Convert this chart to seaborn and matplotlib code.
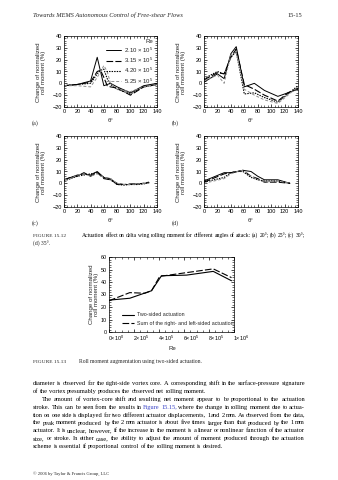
import matplotlib
matplotlib.use("Agg")
import matplotlib.pyplot as plt
import matplotlib.transforms as mtrans
from matplotlib.ticker import MultipleLocator, FixedLocator
import seaborn as sns

# ---------------- data ----------------
re_labels = ["2.10 × 10$^{5}$", "3.15 × 10$^{5}$", "4.20 × 10$^{5}$", "5.25 × 10$^{5}$"]

theta_a = [0, 20, 40, 50, 55, 60, 65, 70, 80, 100, 120, 140]
a_s1 = [-2, -1, 2, 22, 10, -2, -1, 0, -3, -8, -2, 0]
a_s2 = [-2, -1, 1, 10, 11, 5, -2, -3, -4, -10, -3, -1]
a_s3 = [-2, -1, 0, 8, 11, 12, 4, -1, -5, -9, -3, -1]
a_s4 = [-2, -2, -3, 5, 10, 15, 10, 0, -5, -7, -3, -1]

theta_b = [0, 20, 30, 40, 48, 60, 75, 90, 110, 125, 140]
b_s1 = [1, 8, 4, 25, 31, -3, 0, -6, -11, -8, -5]
b_s2 = [3, 9, 8, 22, 29, -1, -5, -10, -15, -8, -4]
b_s3 = [4, 10, 8, 22, 27, -9, -8, -12, -16, -9, -2]
b_s4 = [2, 7, 0, 24, 26, -5, -10, -14, -17, -10, -3]

theta_c = [0, 10, 20, 30, 40, 50, 60, 70, 80, 90, 100, 110, 120, 128]
c_s1 = [3, 5, 7, 8, 7, 10, 5, 4, -1, -1, -1, -0.5, 0, 0.5]
c_s2 = [3, 5, 6, 9, 6, 9, 4, 3, 0, -1, -0.5, -0.5, 0, 1]
c_s3 = [2, 4, 6, 7, 8, 9, 5, 3, -1, -1.5, -1, -1, -0.5, 0.5]
c_s4 = [3, 4, 7, 8, 6, 8, 5, 4, 0, -1, -1, -0.5, 0, 0]

theta_d = [0, 30, 40, 50, 58, 70, 80, 90, 110, 128]
d_s1 = [2, 9, 9, 10, 11, 10, 6, 3, 3, 0]
d_s2 = [1, 8, 9, 10, 11, 6, 4, 1, 1, 0]
d_s3 = [1, 5, 9, 10, 10, 5, 3, 2, 2, 0]
d_s4 = [0, 4, 8, 10, 11, 6, 3, 1, 2, 0]

re_two = [0, 1.66e5, 3.4e5, 4.2e5, 6.2e5, 8.34e5, 9.8e5]
mom_two = [25.5, 27, 33, 45, 45.5, 48.5, 41]
re_sum = [0, 1.66e5, 2.86e5, 3.4e5, 4.06e5, 6.2e5, 8.34e5, 9.8e5]
mom_sum = [25, 31.5, 31, 33, 44.5, 47.5, 50.5, 43.5]
re_ticks = [0, 2e5, 4e5, 6e5, 8e5, 1e6]
re_ticklabels = ["0×10$^{0}$", "2×10$^{5}$", "4×10$^{5}$", "6×10$^{5}$", "8×10$^{5}$", "1×10$^{6}$"]
bottom_legend = ["Two-sided actuation", "Sum of the right- and left-sided actuation"]

header = "Towards MEMS Autonomous Control of Free-shear Flows"
page_no = "15-15"
cap1_head = "FIGURE 15.12"
cap1_l1 = "Actuation effect on delta wing rolling moment for different angles of attack: (a) 20°; (b) 25°; (c) 30°;"
cap1_l2 = "(d) 35°."
cap2_head = "FIGURE 15.13"
cap2_text = "Roll moment augmentation using two-sided actuation."
body = [
    ("diameter is observed for the right-side vortex core. A corresponding shift in the surface-pressure signature", True, 0),
    ("of the vortex presumably produces the observed net rolling moment.", False, 0),
    ("The amount of vortex-core shift and resulting net moment appear to be proportional to the actuation", True, 9),
    ("stroke. This can be seen from the results in Figure 15.15, where the change in rolling moment due to actua-", True, 0),
    ("tion on one side is displayed for two different actuator displacements, 1 and 2 mm. As observed from the data,", True, 0),
    ("the peak moment produced by the 2 mm actuator is about five times larger than that produced by the 1 mm", True, 0),
    ("actuator. It is unclear, however, if the increase in the moment is a linear or nonlinear function of the actuator", True, 0),
    ("size, or stroke. In either case, the ability to adjust the amount of moment produced through the actuation", True, 0),
    ("scheme is essential if proportional control of the rolling moment is desired.", False, 0),
]
copyright_txt = "© 2006 by Taylor & Francis Group, LLC"

# ---------------- style ----------------
W, H = 338, 480
sns.set_theme(style="ticks")
plt.rcParams.update({
    "font.family": ["Liberation Sans", "DejaVu Sans"],
    "mathtext.default": "regular",
    "axes.linewidth": 0.5,
    "axes.edgecolor": "black",
    "xtick.color": "black", "ytick.color": "black",
    "xtick.major.width": 0.5, "ytick.major.width": 0.5,
    "xtick.minor.width": 0.4, "ytick.minor.width": 0.4,
    "xtick.major.size": 2.4, "ytick.major.size": 2.4,
    "xtick.minor.size": 1.2, "ytick.minor.size": 1.2,
})

fig = plt.figure(figsize=(W / 100, H / 100), dpi=100)
fig.patch.set_facecolor("white")
renderer = fig.canvas.get_renderer()


def axpx(l, t, r, b):
    return fig.add_axes([l / W, 1 - b / H, (r - l) / W, (b - t) / H])


def ftext(x, y, s, **kw):
    return fig.text(x / W, 1 - y / H, s, **kw)


STY = [
    dict(color="black", linestyle="-", linewidth=0.7),
    dict(color="black", linestyle=(0, (6, 2)), linewidth=0.8),
    dict(color="black", linestyle=(0, (1.3, 1)), linewidth=0.8),
    dict(color="#909090", linestyle=(0, (3, 2)), linewidth=0.7),
]

YLAB = "Change of normalized\nroll moment (%)"
TSZ = 4.0
LSZ = 4.4


def style_axes(ax, size=TSZ):
    ax.tick_params(which="both", direction="in", top=True, right=True,
                   labelsize=size, pad=1.5)
    ax.set_xlabel("")
    ax.set_ylabel("")
    ax.set_facecolor("white")


def panel(l, t, r, b, theta, series, tag, legend=False):
    ax = axpx(l, t, r, b)
    for vals, name, st in zip(series, re_labels, STY):
        sns.lineplot(x=theta, y=vals, ax=ax, estimator=None, sort=False,
                     label=name if legend else None, legend=False, **st)
    ax.set_xlim(0, 140)
    ax.set_ylim(-20, 40)
    ax.xaxis.set_major_locator(MultipleLocator(20))
    ax.xaxis.set_minor_locator(MultipleLocator(5))
    ax.yaxis.set_major_locator(MultipleLocator(10))
    ax.yaxis.set_minor_locator(MultipleLocator(2))
    style_axes(ax)
    ax.set_yticklabels([("−%d" % -v if v < 0 else "%d" % v) for v in ax.get_yticks()])
    if legend:
        lg = ax.legend(title="Re", loc="upper right", frameon=False, fontsize=4.3,
                       title_fontsize=4.4, handlelength=2.6, handletextpad=0.5,
                       labelspacing=0.18, borderaxespad=0.2, borderpad=0.35)
        lg._legend_box.align = "right"
    cx = (l + r) / 2
    ftext(l - 23, (t + b) / 2 + 1, YLAB, rotation=90, ha="center", va="center",
          fontsize=LSZ, linespacing=1.05)
    ftext(cx, b + 14, "θ°", ha="center", va="center", fontsize=LSZ)
    ftext(l - 32, b + 16, tag, ha="left", va="center", fontsize=4.4,
          family=["Liberation Serif"])
    return ax


panel(64, 36, 157, 107, theta_a, [a_s1, a_s2, a_s3, a_s4], "(a)", legend=True)
panel(204, 36, 298, 107, theta_b, [b_s1, b_s2, b_s3, b_s4], "(b)")
panel(64, 136, 157, 207, theta_c, [c_s1, c_s2, c_s3, c_s4], "(c)")
panel(204, 136, 298, 207, theta_d, [d_s1, d_s2, d_s3, d_s4], "(d)")

# bottom chart
axb = axpx(109, 257, 234, 332)
sns.lineplot(x=re_two, y=mom_two, ax=axb, estimator=None, sort=False,
             label=bottom_legend[0], color="black", linewidth=0.8)
sns.lineplot(x=re_sum, y=mom_sum, ax=axb, estimator=None, sort=False,
             label=bottom_legend[1], color="black", linewidth=0.8, linestyle=(0, (6, 2)))
axb.set_xlim(0, 1e6)
axb.set_ylim(0, 60)
axb.xaxis.set_major_locator(FixedLocator(re_ticks))
axb.xaxis.set_minor_locator(MultipleLocator(5e4))
axb.yaxis.set_major_locator(MultipleLocator(10))
axb.yaxis.set_minor_locator(MultipleLocator(2))
style_axes(axb, 3.9)
axb.set_xticklabels(re_ticklabels)
off = mtrans.ScaledTranslation(7 / 100, 0, fig.dpi_scale_trans)
for lab in axb.get_xticklabels():
    lab.set_transform(lab.get_transform() + off)
axb.legend(loc="upper left", bbox_to_anchor=(0.1, 0.26), frameon=False, fontsize=3.8,
           handlelength=2.4, handletextpad=0.6, labelspacing=0.7,
           borderpad=0, borderaxespad=0)
ftext(94, 294, YLAB, rotation=90, ha="center", va="center", fontsize=LSZ, linespacing=1.05)
ftext(172, 348, "Re", ha="center", va="center", fontsize=LSZ)

# ---------------- page text ----------------
SERIF = ["Liberation Serif", "DejaVu Serif"]
_cache = {}
GAPF = 0.5


def wwidth(s, size, **kw):
    key = (s, round(size, 4), tuple(sorted(kw.items())))
    if key not in _cache:
        t = fig.text(0, 0, s, fontsize=size, family=SERIF, **kw)
        _cache[key] = t.get_window_extent(renderer).width
        t.remove()
    return _cache[key]


def spw(size, **kw):
    return wwidth("a a", size, **kw) - wwidth("aa", size, **kw)


def natural(line, size, gapf=1.0, **kw):
    words = line.split(" ")
    return sum(wwidth(w, size, **kw) for w in words) + gapf * spw(size, **kw) * (len(words) - 1)


def fit_size(line, target, gapf=1.0, start=4.5, **kw):
    s = start
    for _ in range(5):
        s *= target / natural(line, s, gapf, **kw)
    return s


def put_words(line, x0, x1, y, size, justify, blue=(), **kw):
    words = line.split(" ")
    ws = [wwidth(w, size, **kw) for w in words]
    if justify and len(words) > 1:
        gap = (x1 - x0 - sum(ws)) / (len(words) - 1)
    else:
        gap = spw(size, **kw) * 0.8
    x = x0
    for i, (w, wd) in enumerate(zip(words, ws)):
        col = "#3b45c8" if i in blue else "black"
        ftext(x, y, w, fontsize=size, family=SERIF, color=col, ha="left",
              va="baseline", **kw)
        x += wd + gap


L, R = 33, 305
fits = [fit_size(line, R - L - ind, GAPF) for line, just, ind in body if just]
bsize = min(fits) * 0.995

ys = [385 + i * 7.9 for i in range(len(body))]
for (line, just, ind), y in zip(body, ys):
    blue = ()
    if "Figure 15.15" in line:
        ws = line.split(" ")
        blue = (ws.index("Figure"), ws.index("15.15,"))
    put_words(line, L + ind, R, y, bsize, just, blue=blue)

# header
hs = fit_size(header, 152, style="italic")
ftext(33, 17, header, fontsize=hs, family=SERIF, style="italic", ha="left", va="baseline")
ftext(302, 17, page_no, fontsize=hs, family=SERIF, ha="right", va="baseline")

# captions
csize = min(bsize, fit_size(cap1_l1, R - 82, GAPF) * 0.995)
ftext(33, 237, cap1_head, fontsize=csize * 0.95, family=SERIF, ha="left", va="baseline")
put_words(cap1_l1, 82, R, 237, csize, True)
ftext(33, 245.5, cap1_l2, fontsize=csize, family=SERIF, ha="left", va="baseline")
ftext(33, 363, cap2_head, fontsize=csize * 0.95, family=SERIF, ha="left", va="baseline")
ftext(79, 363, cap2_text, fontsize=csize, family=SERIF, ha="left", va="baseline")

ftext(33, 475, copyright_txt, fontsize=bsize * 0.72, family=SERIF, ha="left", va="baseline")

fig.savefig("out.png", dpi=100, facecolor="white")
